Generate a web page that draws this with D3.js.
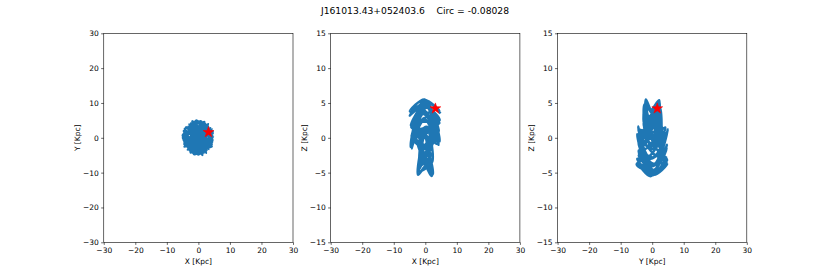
<!DOCTYPE html>
<html><head><meta charset="utf-8">
<script src="https://cdn.jsdelivr.net/npm/d3@7"></script>
<style>body{margin:0;background:#fff}svg{display:block}text{font-family:"DejaVu Sans",sans-serif}</style>
</head><body>
<script>
const titleText = "J161013.43+052403.6    Circ = -0.08028";
const xyTicks = [-30,-20,-10,0,10,20,30];
const zTicks = [-15,-10,-5,0,5,10,15];
// orbit samples (kpc)
const orbitX = [4.80,0.2,-4.44,-0.3,4.24,0.4,-3.18,-0.2,2.50,0.5,-1.22,-2.2,0.00,2.3,1.19,1.6,-2.45,-0.3,3.11,0.2,-4.42,-0.5,4.54,0.4,-4.90,-0.2,4.35,0.3,-4.33,-0.5,3.25,0.6,-2.40,-0.2,1.32,-2.0,0.00,2.4,-1.27,-1.5,2.25,-0.6,-3.39,0.4,4.24,-0.3,-4.44,0.5,
 4.27,-0.2,-4.95,0.4,4.24,-0.3,-3.86,0.5,2.65,-0.4,-1.91,2.0,0.55,-2.3,0.67,2.2,-1.80,-0.2,3.08,0.3,-3.44,-0.4,4.54,0.3,-4.67,-0.5,4.46,0.2,-4.61,-0.3,3.47,0.4,-2.89,-0.5,1.73,-1.6,-0.61,1.9,-0.61,-2.2,1.92,-0.3,-2.77,0.5,3.76,-0.2,-4.45,0.3,4.6];
const orbitY = [0.00,2.2,1.19,-2.3,-2.45,0.3,3.18,-0.6,-4.33,0.2,4.54,0.3,-4.80,-0.2,4.44,-0.4,-4.24,0.5,3.11,-0.6,-2.55,0.2,1.22,1.9,0.00,-2.0,-1.17,2.4,2.50,-0.2,-3.25,0.4,4.16,-0.5,-4.93,0.4,4.70,-0.2,-4.73,0.5,3.90,-0.3,-3.39,-0.2,2.45,0.4,-1.19,-2.2,
 0.52,2.3,0.70,-2.4,-1.80,0.5,3.02,-0.3,-3.52,0.6,4.73,-0.3,-4.47,0.4,4.75,-0.2,-4.24,0.3,3.94,-0.5,-2.59,0.2,1.84,-2.1,-0.57,2.2,-0.63,-2.0,1.96,0.4,-2.71,-0.3,3.84,0.2,-4.26,0.5,4.97,-0.4,-4.36,0.3,4.51,-0.5,-3.55,0.2,2.83,-0.4,-1.80,1.9,0.4];
const orbitZ = [3.5,5.3,-1.2,4.6,2.0,3.0,0.4,0.5,1.2,-2.2,-3.5,-4.6,0.5,-5.4,-2.8,-4.1,-0.5,-1.6,0.3,1.0,1.5,3.4,-0.5,4.9,3.8,5.5,1.0,4.4,-1.5,2.8,-0.6,0.2,1.5,-2.5,-3.8,-4.8,-1.0,-5.2,-3.0,-3.9,0.8,-1.3,-0.4,1.2,2.8,3.6,0.2,5.0,
 -1.0,5.0,3.2,4.8,0.5,3.9,1.1,1.4,0.8,-1.3,-3.2,-3.6,1.6,-5.3,-3.8,-5.0,-1.8,-2.8,0.5,-0.1,2.2,2.3,2.5,4.3,-1.3,5.4,3.9,5.1,1.8,3.7,0.0,1.6,-0.2,-1.0,-2.5,-3.9,1.2,-5.5,-3.6,-4.7,-1.4,-3.0,0.6,0.2,-0.9,2.6,-0.8,4.5,2.0];
const starX = [3.2], starY = [1.6], starZ = [4.2];

const W = 830, H = 277;
const svg = d3.select("body").append("svg").attr("width", W).attr("height", H);
svg.append("text").attr("x", 415).attr("y", 13.5).attr("text-anchor", "middle")
  .style("white-space", "pre")
  .attr("font-size", 9.2).attr("fill", "#000").text(titleText);

const yTop = 33.3, yBot = 242.3;
const panels = [
  {x0: 103.75, x1: 293.0, h: orbitX, v: orbitY, sh: starX, sv: starY, vdom: [-30, 30], vticks: xyTicks, xl: "X [Kpc]", yl: "Y [Kpc]"},
  {x0: 330.7, x1: 519.9, h: orbitX, v: orbitZ, sh: starX, sv: starZ, vdom: [-15, 15], vticks: zTicks, xl: "X [Kpc]", yl: "Z [Kpc]"},
  {x0: 557.6, x1: 746.8, h: orbitY, v: orbitZ, sh: starY, sv: starZ, vdom: [-15, 15], vticks: zTicks, xl: "Y [Kpc]", yl: "Z [Kpc]"}
];
const fmt = d => String(d).replace("-", "\u2212");

panels.forEach((p, i) => {
  const x = d3.scaleLinear().domain([-30, 30]).range([p.x0, p.x1]);
  const y = d3.scaleLinear().domain(p.vdom).range([yBot, yTop]);
  const g = svg.append("g");
  g.append("clipPath").attr("id", "c" + i).append("rect")
    .attr("x", p.x0).attr("y", yTop).attr("width", p.x1 - p.x0).attr("height", yBot - yTop);
  const pts = p.h.map((d, k) => [d, p.v[k]]);
  const line = d3.line().x(d => x(d[0])).y(d => y(d[1])).curve(d3.curveCatmullRom.alpha(0.5));
  g.append("path").attr("clip-path", `url(#c${i})`).attr("d", line(pts))
    .attr("fill", "none").attr("stroke", "#1f77b4").attr("stroke-width", 2.5)
    .attr("stroke-linejoin", "round");
  g.selectAll(".star").data(p.sh.map((d, k) => [d, p.sv[k]])).join("path")
    .attr("transform", d => `translate(${x(d[0])},${y(d[1])})`)
    .attr("d", d3.symbol(d3.symbolStar).size(36)())
    .attr("fill", "red").attr("stroke", "red").attr("stroke-width", 0.6);

  const ax = g.append("g").attr("transform", `translate(0,${yBot})`)
    .call(d3.axisBottom(x).tickValues(xyTicks).tickFormat(fmt).tickSize(2.6).tickPadding(2.4));
  const ay = g.append("g").attr("transform", `translate(${p.x0},0)`)
    .call(d3.axisLeft(y).tickValues(p.vticks).tickFormat(fmt).tickSize(2.6).tickPadding(2.4));
  [ax, ay].forEach(a => {
    a.select(".domain").remove();
    a.selectAll("text").attr("font-size", 7.5).attr("fill", "#000").attr("font-family", "DejaVu Sans");
    a.selectAll("line").attr("stroke", "#000").attr("stroke-width", 0.6);
  });
  g.append("rect").attr("x", p.x0).attr("y", yTop).attr("width", p.x1 - p.x0).attr("height", yBot - yTop)
    .attr("fill", "none").attr("stroke", "#000").attr("stroke-width", 0.6);
  g.append("text").attr("x", (p.x0 + p.x1) / 2).attr("y", 263.5).attr("text-anchor", "middle")
    .attr("font-size", 7.5).attr("fill", "#000").text(p.xl);
  g.append("text").attr("transform", `translate(${p.x0 - 24},${(yTop + yBot) / 2}) rotate(-90)`)
    .attr("text-anchor", "middle").attr("font-size", 7.5).attr("fill", "#000").text(p.yl);
});
</script>
</body></html>
